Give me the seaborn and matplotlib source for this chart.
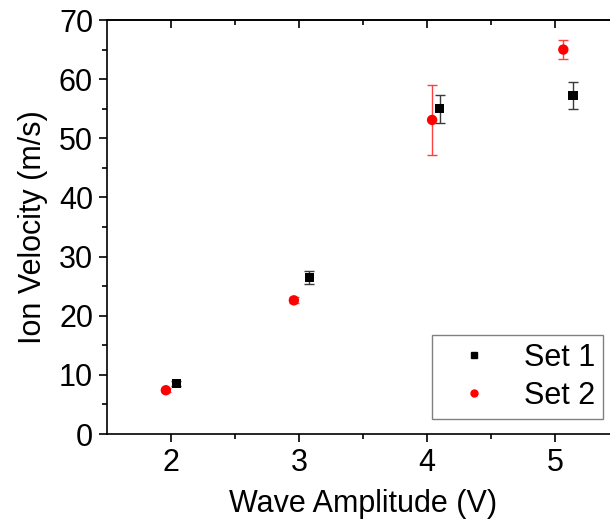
import matplotlib
matplotlib.use("Agg")
import matplotlib.pyplot as plt
from matplotlib.lines import Line2D
import seaborn as sns
import pandas as pd

# Measured ion velocities for two runs
set1_amp = [2.04, 3.08, 4.10, 5.14]
set1_vel = [8.5, 26.5, 55.0, 57.3]
set1_err = [0.4, 1.1, 2.4, 2.3]

set2_amp = [1.96, 2.96, 4.04, 5.065]
set2_vel = [7.4, 22.6, 53.1, 65.0]
set2_err = [0.3, 0.5, 5.85, 1.6]

series_names = ["Set 1", "Set 2"]
series_colors = ["black", "red"]
series_markers = ["s", "o"]
series_sizes = [44, 56]

x_ticks = [2, 3, 4, 5]
y_ticks = [0, 10, 20, 30, 40, 50, 60, 70]

sns.set_style("ticks")
plt.rcParams["font.family"] = ["Liberation Sans", "DejaVu Sans"]
plt.rcParams["text.color"] = "black"
plt.rcParams["axes.labelcolor"] = "black"
plt.rcParams["xtick.color"] = "black"
plt.rcParams["ytick.color"] = "black"

df = pd.DataFrame({
    "amp": set1_amp + set2_amp,
    "vel": set1_vel + set2_vel,
    "set": [series_names[0]] * len(set1_amp) + [series_names[1]] * len(set2_amp),
})

fig = plt.figure(figsize=(6.1, 5.25), dpi=100)
ax = fig.add_axes([107 / 610, 91 / 525, 512 / 610, 414 / 525])

# error bars first so the markers sit on top
for xs, ys, es, ec in [(set1_amp, set1_vel, set1_err, "#3a3a3a"),
                       (set2_amp, set2_vel, set2_err, "#ff4040")]:
    ax.errorbar(xs, ys, yerr=es, fmt="none", ecolor=ec, elinewidth=1.0,
                capsize=3.5, capthick=1.0, zorder=2)

for name, color, marker, size in zip(series_names, series_colors, series_markers, series_sizes):
    sub = df[df["set"] == name]
    sns.scatterplot(data=sub, x="amp", y="vel", color=color, marker=marker,
                    s=size, edgecolor="none", linewidth=0, ax=ax,
                    legend=False, zorder=3)

ax.set_xlim(1.5, 5.5)
ax.set_ylim(0, 70)
ax.set_xticks(x_ticks)
ax.set_yticks(y_ticks)
ax.set_xticks([2.5, 3.5, 4.5], minor=True)
ax.set_yticks(list(range(5, 70, 10)), minor=True)

ax.set_xlabel("Wave Amplitude (V)", fontsize=22, labelpad=8)
ax.set_ylabel("Ion Velocity (m/s)", fontsize=22, labelpad=8)

for side in ["left", "bottom", "top"]:
    ax.spines[side].set_linewidth(1.2)
    ax.spines[side].set_color("black")
ax.spines["right"].set_visible(False)

ax.tick_params(axis="both", which="major", direction="out", length=6, width=1.2,
               labelsize=22, color="black", labelcolor="black", pad=4,
               top=False, right=False)
ax.tick_params(axis="both", which="minor", direction="out", length=3.5, width=1.2,
               color="black", top=False, right=False)

# inward ticks along the top edge
top = ax.secondary_xaxis("top")
top.set_xticks(x_ticks)
top.set_xticks([2.5, 3.5, 4.5], minor=True)
top.tick_params(which="major", direction="in", length=6, width=1.2, labeltop=False,
                color="black")
top.tick_params(which="minor", direction="in", length=3.5, width=1.2, color="black")
top.spines["top"].set_linewidth(1.2)
top.spines["top"].set_color("black")

handles = [Line2D([], [], linestyle="none", marker=m, color=c, markersize=5)
           for m, c in zip(series_markers, series_colors)]
leg = ax.legend(handles, series_names, loc="upper left",
                bbox_to_anchor=(432 / 610, 1 - 335 / 525),
                bbox_transform=fig.transFigure, fontsize=22, frameon=True,
                fancybox=False, edgecolor="#808080", framealpha=1,
                handletextpad=0.55, borderpad=0.26, labelspacing=0.26,
                handlelength=2.2, borderaxespad=0)
leg.get_frame().set_linewidth(1.0)

fig.savefig("out.png", dpi=100)
